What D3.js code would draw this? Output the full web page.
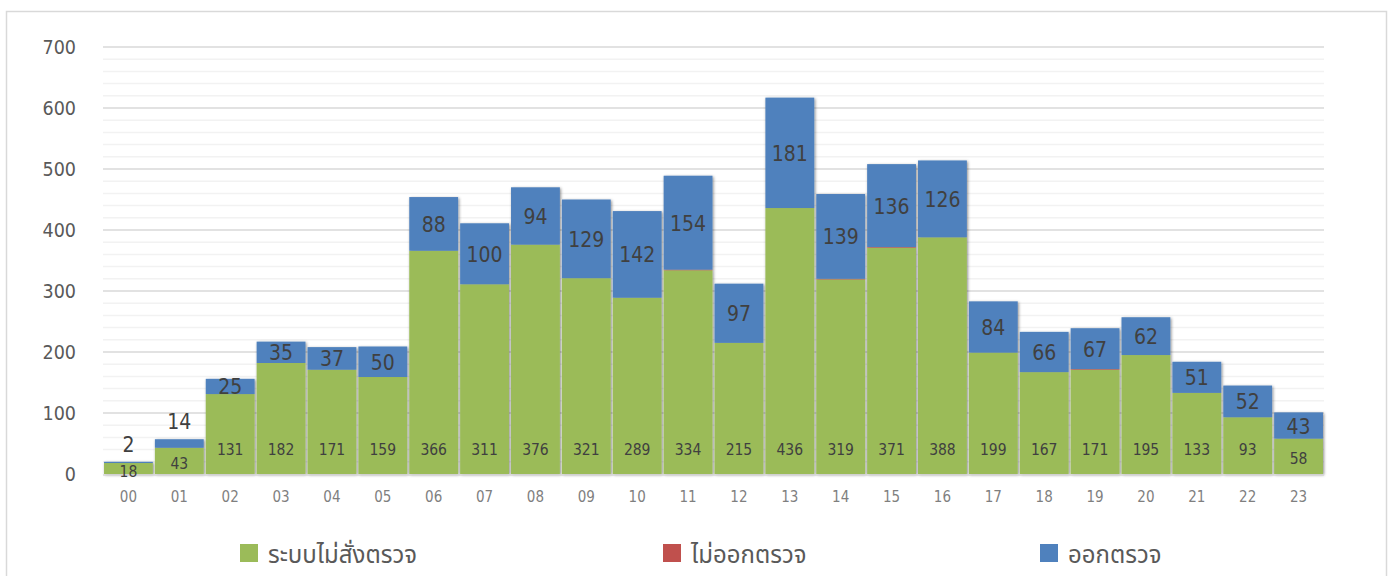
<!DOCTYPE html>
<html>
<head>
<meta charset="utf-8">
<script src="https://cdn.jsdelivr.net/npm/d3@7"></script>
<style>
  body { margin: 0; background: #fff; }
  svg { display: block; }
</style>
</head>
<body>
<div id="chart"></div>
<script>
const hours = ["00","01","02","03","04","05","06","07","08","09","10","11",
               "12","13","14","15","16","17","18","19","20","21","22","23"];
const noOrder = [18,43,131,182,171,159,366,311,376,321,289,334,215,436,319,371,388,199,167,171,195,133,93,58];
const notOut  = [0,0,0,0,0,0,0,0,0,0,0,1,0,0,1,1,0,0,0,1,0,0,0,0];
const wentOut = [2,14,25,35,37,50,88,100,94,129,142,154,97,181,139,136,126,84,66,67,62,51,52,43];
const seriesNames = ["ระบบไม่สั่งตรวจ", "ไม่ออกตรวจ", "ออกตรวจ"];
const seriesColors = ["#9bbb59", "#c0504d", "#4f81bd"];
const yTicks = [0,100,200,300,400,500,600,700];

const W = 1394, H = 576;
const numFont = "'DejaVu Sans Condensed','DejaVu Sans',sans-serif";
const thaiFont = "'Leelawadee UI','Tahoma','Noto Sans Thai','Noto Sans',sans-serif";

const svg = d3.select("#chart").append("svg")
    .attr("width", W)
    .attr("height", H);

// outer frame
svg.append("rect")
    .attr("x", 6.5).attr("y", 11.5)
    .attr("width", 1380).attr("height", 600)
    .attr("fill", "none")
    .attr("stroke", "#d9d9d9")
    .attr("stroke-width", 1.5);

const defs = svg.append("defs");
const shadow = defs.append("filter").attr("id", "shadow")
    .attr("x", "-10%").attr("y", "-10%").attr("width", "120%").attr("height", "120%");
shadow.append("feDropShadow")
    .attr("dx", 1).attr("dy", 1).attr("stdDeviation", 1.6)
    .attr("flood-color", "#000").attr("flood-opacity", 0.45);

const x = d3.scaleBand().domain(hours).range([103, 1324]).paddingInner(0.04).paddingOuter(0.02);
const y = d3.scaleLinear().domain([0, 700]).range([474, 47]);

//gridlines: minor every 20, major every 100
const grid = svg.append("g");
grid.selectAll("line.minor")
    .data(d3.range(0, 701, 20).filter(v => v % 100 != 0))
    .join("line")
    .attr("x1", 103).attr("x2", 1324)
    .attr("y1", d => y(d)).attr("y2", d => y(d))
    .attr("stroke", "#f2f2f2").attr("stroke-width", 1.5);
grid.selectAll("line.major")
    .data(yTicks.slice(1))
    .join("line")
    .attr("x1", 103).attr("x2", 1324)
    .attr("y1", d => y(d)).attr("y2", d => y(d))
    .attr("stroke", "#d9d9d9").attr("stroke-width", 1.5);

// y axis
const yAxis = svg.append("g")
    .attr("transform", "translate(76,0)")
    .call(d3.axisLeft(y).tickValues(yTicks).tickSize(0).tickPadding(0));
yAxis.select(".domain").remove();
yAxis.selectAll("text")
    .attr("font-family", numFont)
    .attr("font-size", 19.5)
    .attr("fill", "#595959");

// x axis
const xAxis = svg.append("g")
    .attr("transform", "translate(0,491)")
    .call(d3.axisBottom(x).tickSize(0).tickPadding(0));
xAxis.select(".domain").remove();
xAxis.selectAll("text")
    .attr("font-family", numFont)
    .attr("font-size", 15)
    .attr("fill", "#7f7f7f");

// stacked data
const rows = hours.map((h, i) => ({ hour: h, a: noOrder[i], b: notOut[i], c: wentOut[i] }));
const stack = d3.stack().keys(["a", "b", "c"])(rows);

const bars = svg.append("g").attr("filter", "url(#shadow)");
bars.selectAll("g")
    .data(stack)
    .join("g")
    .attr("fill", (d, i) => seriesColors[i])
    .selectAll("rect")
    .data(d => d)
    .join("rect")
    .attr("x", d => x(d.data.hour))
    .attr("width", x.bandwidth())
    .attr("y", d => y(d[1]))
    .attr("height", d => y(d[0]) - y(d[1]));

// axis base line
svg.append("line")
    .attr("x1", 103).attr("x2", 1324)
    .attr("y1", y(0) + 1).attr("y2", y(0) + 1)
    .attr("stroke", "#d9d9d9").attr("stroke-width", 1.5);

// green labels (near base)
svg.append("g").selectAll("text")
    .data(stack[0])
    .join("text")
    .attr("x", d => x(d.data.hour) + x.bandwidth() / 2)
    .attr("y", d => Math.max((y(d[0]) + y(d[1])) / 2 + 2, y(0) - 25) + 1)
    .attr("text-anchor", "middle")
    .attr("dominant-baseline", "central")
    .attr("font-family", numFont)
    .attr("font-size", 15.5)
    .attr("fill", "#404040")
    .text(d => d.data.a);

// blue labels (centered, above bar if too thin)
svg.append("g").selectAll("text")
    .data(stack[2])
    .join("text")
    .attr("x", d => x(d.data.hour) + x.bandwidth() / 2)
    .attr("y", d => {
        const h = y(d[0]) - y(d[1]);
        return h < 12 ? y(d[1]) - 17 : (y(d[0]) + y(d[1])) / 2 + 1;
    })
    .attr("text-anchor", "middle")
    .attr("dominant-baseline", "central")
    .attr("font-family", numFont)
    .attr("font-size", 21)
    .attr("fill", "#404040")
    .text(d => d.data.c);

// legend
const legendX = [240, 663, 1040];
const legend = svg.append("g").selectAll("g")
    .data(seriesNames)
    .join("g")
    .attr("transform", (d, i) => `translate(${legendX[i]},544)`);
legend.append("rect")
    .attr("width", 18).attr("height", 18)
    .attr("fill", (d, i) => seriesColors[i]);
legend.append("text")
    .attr("x", 28).attr("y", 19)
    .attr("font-family", thaiFont)
    .attr("font-size", 24)
    .attr("fill", "#595959")
    .text(d => d);
</script>
</body>
</html>
